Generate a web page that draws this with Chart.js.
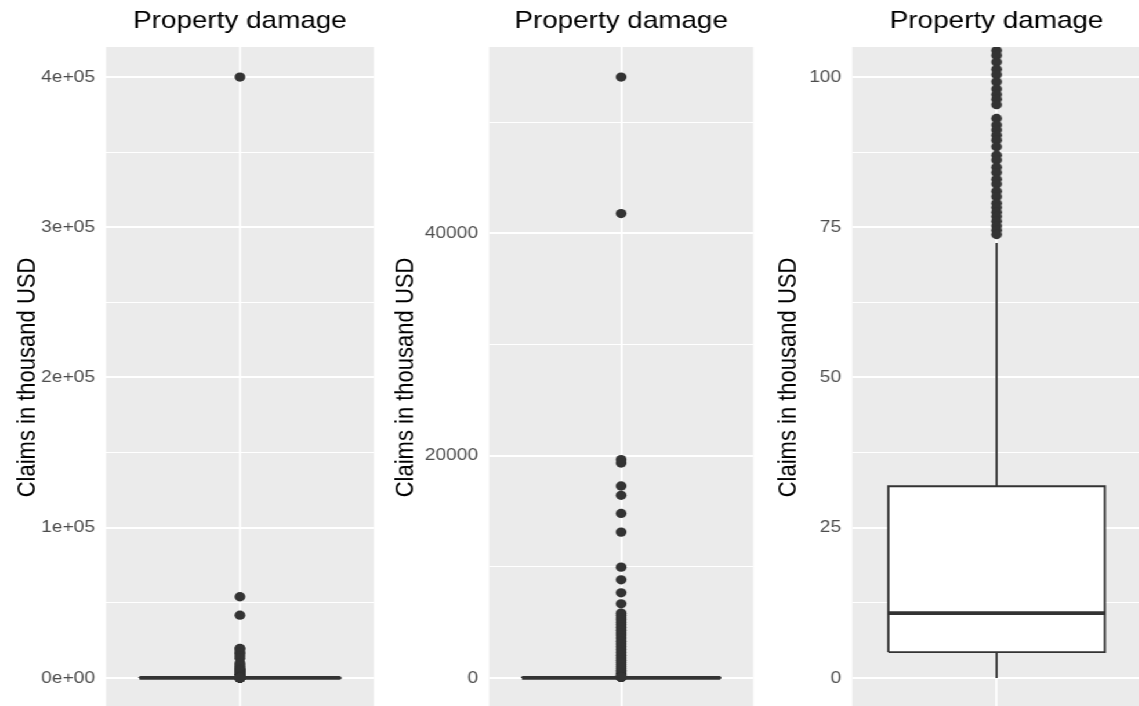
<!DOCTYPE html>
<html>
<head>
<meta charset="utf-8">
<title>Property damage</title>
<script src="https://cdn.jsdelivr.net/npm/chart.js@4.4.1/dist/chart.umd.min.js"></script>
<style>
  html, body { margin: 0; padding: 0; background: #fff; overflow: hidden; width: 1139px; height: 706px; }
  /* the reference is stretched sideways, so the whole figure is drawn narrow and widened */
  #stretch { position: absolute; left: 0; top: 0; width: 992px; height: 720px; transform: scaleX(1.16); transform-origin: 0 0; }
  #stretch canvas { position: absolute; top: 0; }
</style>
</head>
<body>
<div id="stretch">
  <canvas id="p1" width="327" height="720" style="left:0px"></canvas>
  <canvas id="p2" width="327" height="720" style="left:327px"></canvas>
  <canvas id="p3" width="336" height="720" style="left:655px"></canvas>
</div>
<script>
// boxplot statistics, claims in thousand USD
const categories = ['Property damage'];
const whiskerLow = [0];
const quartile1 = [4.3];
const medians = [10.8];
const quartile3 = [31.9];
const whiskerHigh = [72.4];
const outliers = [
  400000, 54060, 41780, 19640, 19340, 17270, 16430, 14800, 13120, 9970, 8830, 7660, 6670,
  5830, 5650, 5400, 5230, 5000, 4800, 4560, 4300, 4050, 3870, 3600, 3300, 3050, 2800, 2550,
  2300, 2050, 1800, 1600, 1400, 1200, 1000, 850, 700, 560, 450, 360, 290, 230, 185, 150, 125, 110,
  105.5, 104.4, 103.6, 102.5, 101.3, 100.4, 99.2, 98.0, 97.1, 96.3, 95.4, 93.1, 92.0, 91.2,
  90.3, 89.5, 88.4, 87.0, 86.2, 85.0, 84.1, 83.0, 82.2, 81.0, 80.1, 79.0, 78.3, 77.5, 76.8,
  76.0, 75.2, 74.5, 73.8
];

// one entry per panel
const panelLimits = [[0, 400000], [0, 54060], [0, 100]];
const majorTicks = [[0, 100000, 200000, 300000, 400000], [0, 20000, 40000], [0, 25, 50, 75, 100]];
const tickLabels = [['0e+00', '1e+05', '2e+05', '3e+05', '4e+05'], ['0', '20000', '40000'], ['0', '25', '50', '75', '100']];
const minorTicks = [[50000, 150000, 250000, 350000], [10000, 30000, 50000], [12.5, 37.5, 62.5, 87.5]];

const FONT = "'Liberation Sans', Arial, Helvetica, sans-serif";
const DARK = '#333333';
Chart.defaults.font.family = FONT;

// panel background (ggplot grey)
const panelBg = {
  id: 'panelBg',
  beforeDraw(chart) {
    const {ctx, chartArea: a} = chart;
    ctx.save();
    ctx.fillStyle = '#EBEBEB';
    ctx.fillRect(a.left, a.top, a.right - a.left, a.bottom - a.top);
    ctx.restore();
  }
};

const panels = [
  {id: 'p1', axisWidth: 91.4, padRight: 4.6, titlePad: 10.5},
  {id: 'p2', axisWidth: 94.6, padRight: 1.4, titlePad: 9.6},
  {id: 'p3', axisWidth: 79.7, padRight: 7.4, titlePad: 12.0}
];

function makePanel(i) {
  const p = panels[i];
  const half = 0.45;
  const q1 = quartile1[0], q3 = quartile3[0], med = medians[0];
  const lo = panelLimits[i][0], hi = panelLimits[i][1];
  const pad = (hi - lo) * 0.05;
  const allTicks = majorTicks[i].concat(minorTicks[i]).sort((a, b) => a - b);

  new Chart(document.getElementById(p.id), {
    type: 'scatter',
    data: {
      datasets: [
        {
          label: 'median',
          data: [{x: -half, y: med}, {x: half, y: med}],
          showLine: true, borderColor: DARK, borderWidth: 3.8, pointRadius: 0, clip: 0
        },
        {
          label: 'box',
          data: [{x: -half, y: q1}, {x: half, y: q1}, {x: half, y: q3}, {x: -half, y: q3}, {x: -half, y: q1}],
          showLine: true, fill: 'shape', backgroundColor: '#FFFFFF',
          borderColor: DARK, borderWidth: 1.9, pointRadius: 0, clip: 0
        },
        {
          label: 'upper whisker',
          data: [{x: 0, y: q3}, {x: 0, y: whiskerHigh[0]}],
          showLine: true, borderColor: DARK, borderWidth: 1.8, pointRadius: 0, clip: 0
        },
        {
          label: 'lower whisker',
          data: [{x: 0, y: q1}, {x: 0, y: whiskerLow[0]}],
          showLine: true, borderColor: DARK, borderWidth: 1.8, pointRadius: 0, clip: 0
        },
        {
          label: 'outliers',
          data: outliers.map(v => ({x: 0, y: v})),
          pointRadius: 4.65, pointBackgroundColor: DARK, pointBorderWidth: 0, clip: 0
        }
      ]
    },
    options: {
      responsive: false,
      animation: false,
      events: [],
      layout: {padding: {left: 0, right: p.padRight, top: 0, bottom: 12}},
      plugins: {
        legend: {display: false},
        tooltip: {enabled: false},
        title: {
          display: true,
          text: categories[0],
          color: '#000000',
          fullSize: false,
          font: {family: FONT, size: 24, weight: 'normal'},
          padding: {top: 6.8, bottom: 11.4}
        }
      },
      scales: {
        x: {
          type: 'linear',
          min: -0.6,
          max: 0.6,
          afterBuildTicks: s => { s.ticks = [{value: 0}]; },
          afterFit: s => { s.height = 0; s.paddingLeft = 0; s.paddingRight = 0; },
          ticks: {display: false},
          grid: {color: '#FFFFFF', lineWidth: 1.8, drawTicks: false},
          border: {display: false}
        },
        y: {
          min: lo - pad,
          max: hi + pad,
          afterBuildTicks: s => { s.ticks = allTicks.map(v => ({value: v})); },
          afterFit: s => {
            s.width = p.axisWidth;
            // labels may hang over the panel edge, as in ggplot
            s.paddingTop = 0;
            s.paddingBottom = 0;
          },
          ticks: {
            autoSkip: false,
            padding: 9.5,
            color: '#4D4D4D',
            font: {family: FONT, size: 16.5},
            callback: v => {
              const k = majorTicks[i].indexOf(v);
              return k >= 0 ? tickLabels[i][k] : '';
            }
          },
          grid: {
            color: '#FFFFFF',
            drawTicks: false,
            lineWidth: c => (c.tick && majorTicks[i].indexOf(c.tick.value) >= 0) ? 2.1 : 1.1
          },
          border: {display: false},
          title: {
            display: true,
            text: 'Claims in thousand USD',
            color: '#000000',
            font: {family: FONT, size: 22},
            padding: {top: p.titlePad, bottom: 0}
          }
        }
      }
    },
    plugins: [panelBg]
  });
}

document.addEventListener('DOMContentLoaded', function() {
  for (let i = 0; i < panels.length; i++) {
    makePanel(i);
  }
});
</script>
</body>
</html>
